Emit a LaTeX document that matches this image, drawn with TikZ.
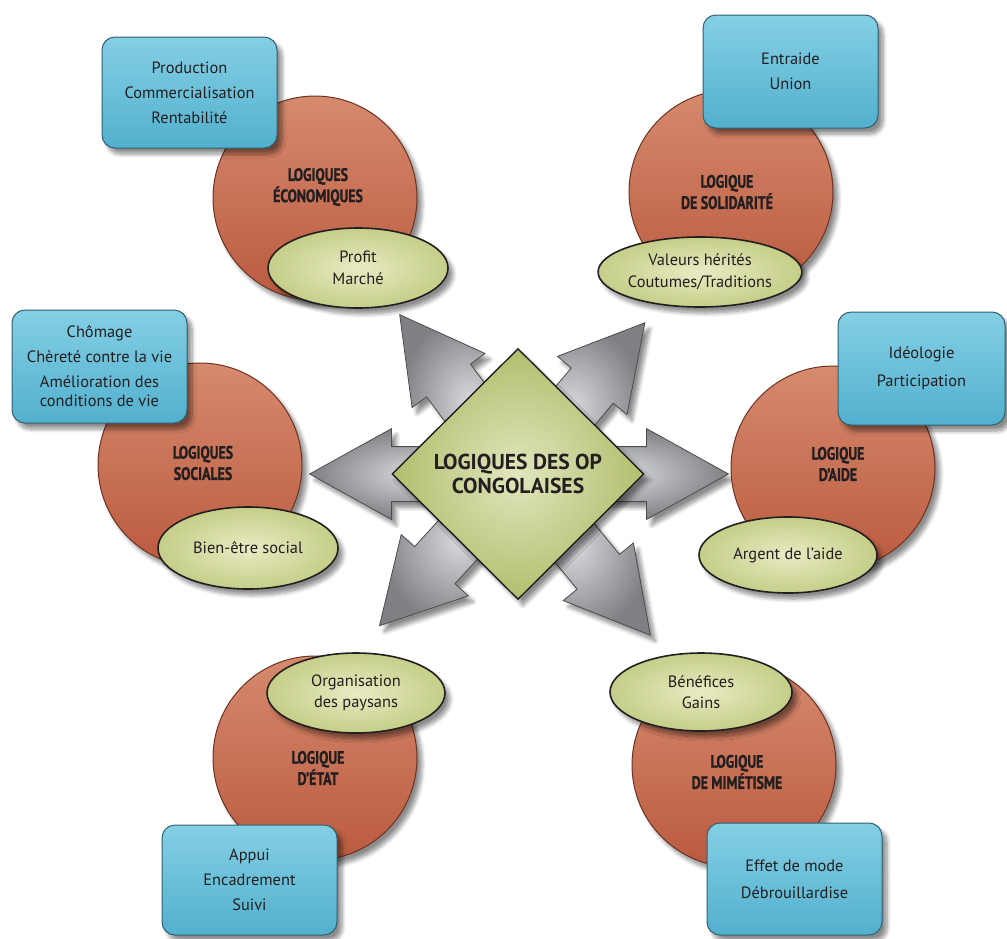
\documentclass[tikz,border=0pt]{standalone}
\usepackage{fontspec}
\setmainfont{PT Sans}
\newfontfamily\titrefont{PT Sans}[FakeStretch=0.77, FakeBold=1.2]
\usetikzlibrary{shapes.geometric,shapes.arrows,shadows.blur}
\definecolor{briqueclair}{HTML}{D68A6E}
\definecolor{briquefonce}{HTML}{BA5A3F}
\definecolor{briquebord}{HTML}{6B3322}
\definecolor{bleuclair}{HTML}{84CFE4}
\definecolor{bleufonce}{HTML}{52B0CE}
\definecolor{bleubord}{HTML}{2F5F70}
\definecolor{olivclair}{HTML}{E8EBC3}
\definecolor{olivfonce}{HTML}{C5CE88}
\definecolor{losclair}{HTML}{E1E6BD}
\definecolor{losfonce}{HTML}{B2BE6E}
\definecolor{gristclair}{HTML}{D9DADD}
\definecolor{gristfonce}{HTML}{7E8084}
\definecolor{encre}{HTML}{231F20}
\begin{document}
\begin{tikzpicture}[x=0.5pt, y=-0.5pt,
    every node/.style = {inner sep=0pt, text=encre},
    ombre/.style = {blur shadow={shadow blur steps=8, shadow xshift=2.5pt, shadow yshift=-3pt, shadow opacity=45}},
    fleche/.style = {single arrow, single arrow head extend=9pt, single arrow tip angle=58,
        inner xsep=0pt, inner ysep=13.5pt, minimum width=45pt, anchor=tail,
        draw=gray!60!black, line width=0.4pt,
        inner color=gristclair, outer color=gristfonce, ombre},
    losange/.style = {diamond, aspect=1, minimum width=126pt, minimum height=125.5pt,
        draw=encre, line width=0.7pt, inner color=losclair, outer color=losfonce, ombre,
        align=center, font=\bfseries\fontsize{10.8}{12.2}\selectfont},
    cercle/.style = {circle, minimum size=102pt, draw=briquebord, line width=0.5pt,
        top color=briqueclair, bottom color=briquefonce, ombre},
    titre/.style = {align=center, font=\titrefont\bfseries\fontsize{9}{10.6}\selectfont},
    bulle/.style = {ellipse, draw=encre, line width=0.8pt, inner color=olivclair, outer color=olivfonce,
        ombre, align=center, font=\fontsize{8.2}{10.8}\selectfont},
    boite/.style = {rectangle, rounded corners=6.5pt, draw=bleubord, line width=0.5pt,
        top color=bleuclair, bottom color=bleufonce, ombre,
        align=center, font=\fontsize{8.2}{12.5}\selectfont}]
\useasboundingbox (0,0) rectangle (1007,938);

\coordinate (centre) at (518,474);
\foreach \n/\a/\l in {NO/126.6/99, NE/50/98.5, O/180/104,
                      E/0/105, SO/-132.4/102.5, SE/-50.6/104}
  \node[fleche, rotate=\a, minimum height=\l pt] (f\n) at (centre) {};
\node[losange] (op) at (centre) {LOGIQUES DES OP\\CONGOLAISES};

\node[cercle] (cEco) at (315,198) {};
\node[cercle] (cSol) at (731,192) {};
\node[cercle] (cSoc) at (200,465) {};
\node[cercle] (cAide) at (833,468) {};
\node[cercle] (cEtat) at (315,758) {};
\node[cercle] (cMim) at (734,765) {};

\node[titre] (tEco) at (318,187) {LOGIQUES\\ÉCONOMIQUES};
\node[titre] (tSol) at (727,192) {LOGIQUE\\DE SOLIDARITÉ};
\node[titre] (tSoc) at (203,463) {LOGIQUES\\SOCIALES};
\node[titre] (tAide) at (838,464) {LOGIQUE\\D’AIDE};
\node[titre] (tEtat) at (318,768) {LOGIQUE\\D’ÉTAT};
\node[titre] (tMim) at (737,772) {LOGIQUE\\DE MIMÉTISME};

\node[boite, minimum width=87.5pt, minimum height=55.5pt] (rEco) at (189.5,92.5)
  {Production\\Commercialisation\\Rentabilité};
\node[boite, minimum width=87.5pt, minimum height=56.5pt] (rSol) at (790.5,71.5)
  {Entraide\\Union};
\node[boite, minimum width=87.5pt, minimum height=56.5pt] (rSoc) at (99.5,366.5)
  {Chômage\\Chèreté contre la vie\\Amélioration des\\[-3pt]conditions de vie};
\node[boite, minimum width=83.5pt, minimum height=56.5pt] (rAide) at (921.5,368.5)
  {Idéologie\\[1.5pt]Participation};
\node[boite, minimum width=87.5pt, minimum height=55pt] (rEtat) at (249.5,880)
  {Appui\\Encadrement\\Suivi};
\node[boite, minimum width=87.5pt, minimum height=56pt] (rMim) at (794.5,879)
  {Effet de mode\\[1pt]Débrouillardise};

\node[bulle, minimum width=90pt, minimum height=40pt] (eEco) at (358,268) {Profit\\Marché};
\node[bulle, minimum width=88pt, minimum height=35pt] (eSol) at (700,272)
  {Valeurs hérités\\Coutumes/Traditions};
\node[bulle, minimum width=90pt, minimum height=41pt] (eSoc) at (248,548) {Bien-être social};
\node[bulle, minimum width=89pt, minimum height=38pt] (eAide) at (788,555) {Argent de l’aide};
\node[bulle, minimum width=89pt, minimum height=40pt] (eEtat) at (356,693)
  {Organisation\\des paysans};
\node[bulle, minimum width=91pt, minimum height=39pt] (eMim) at (701,692) {Bénéfices\\Gains};
\end{tikzpicture}
\end{document}
